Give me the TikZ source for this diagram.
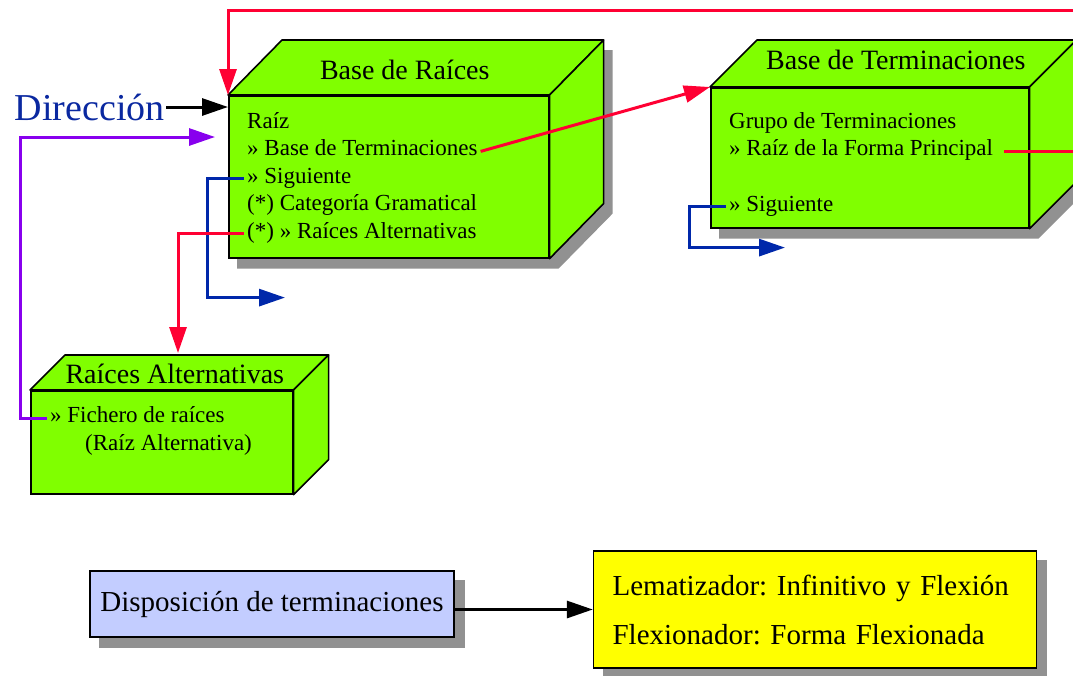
\documentclass[tikz,border=0pt]{standalone}
\usepackage{fontspec}
\setmainfont{Liberation Serif}
\usetikzlibrary{positioning,calc,arrows.meta}

\definecolor{boxgreen}{RGB}{128,255,0}
\definecolor{shadowgray}{RGB}{145,145,145}
\definecolor{linkred}{RGB}{255,0,51}
\definecolor{linkblue}{RGB}{0,40,170}
\definecolor{linkpurple}{RGB}{136,0,238}
\definecolor{dirblue}{RGB}{10,40,160}
\definecolor{dispblue}{RGB}{195,205,255}
\definecolor{lemayellow}{RGB}{255,255,0}

\pgfdeclarelayer{background}
\pgfsetlayers{background,main}

% top and side faces of a solid box, #1 front node, (#2,#3) depth
\newcommand{\solidbox}[3]{%
  \draw[facebox] (#1.north west) -- ++(#2,#3) -- ($(#1.north east)+(#2,#3)$) -- (#1.north east) -- cycle;
  \draw[facebox] (#1.north east) -- ++(#2,#3) -- ($(#1.south east)+(#2,#3)$) -- (#1.south east) -- cycle;
}
% shadow of a solid box, (#4,#5) offset
\newcommand{\boxshadow}[5]{%
  \begin{pgfonlayer}{background}
  \fill[shadowgray] ($(#1.south west)+(#4,#5)$) -- ($(#1.north west)+(#4,#5)$)
    -- ($(#1.north west)+(#2+#4,#3+#5)$) -- ($(#1.north east)+(#2+#4,#3+#5)$)
    -- ($(#1.south east)+(#2+#4,#3+#5)$) -- ($(#1.south east)+(#4,#5)$) -- cycle;
  \end{pgfonlayer}}

\frenchspacing

\begin{document}
\begin{tikzpicture}[x=1pt, y=-1pt,
    front/.style={draw, line width=1.6pt, fill=boxgreen, inner sep=0pt, anchor=north west},
    facebox/.style={draw, line width=1.6pt, fill=boxgreen, line join=round},
    boxtitle/.style={font=\fontsize{28}{32}\selectfont, inner sep=0pt},
    item/.style={font=\fontsize{23}{27}\selectfont, inner sep=3pt, text height=14pt, text depth=5pt, anchor=west},
    link/.style={line width=3pt, -{Triangle[length=26pt,width=17pt]}},
    flatbox/.style={draw, line width=1.6pt, inner sep=0pt, font=\fontsize{29}{34}\selectfont}
]
    \useasboundingbox (0,0) rectangle (1073,675);

    % Base de Raices
    \node [front, minimum width=320pt, minimum height=162pt] (raices) at (228,95) {};
    \solidbox{raices}{54}{-55}
    \boxshadow{raices}{54}{-55}{9}{10}
    \node [boxtitle] (raicesTitle) at ($(raices.north)+(16,-25)$) {Base de Raíces};
    \node [item] (raiz) at ($(raices.north west)+(16,29)$) {Raíz};
    \node [item, below right=2pt and 0pt of raiz.south west] (bterm) {» Base de Terminaciones};
    \node [item, below right=2pt and 0pt of bterm.south west] (sig) {» Siguiente};
    \node [item, below right=2pt and 0pt of sig.south west] (cat) {(*) Categoría Gramatical};
    \node [item, below right=2pt and 0pt of cat.south west] (ralt) {(*) » Raíces Alternativas};

    % Base de Terminaciones
    \node [front, minimum width=318pt, minimum height=140pt] (term) at (710,87) {};
    \solidbox{term}{47}{-47}
    \boxshadow{term}{47}{-47}{9}{10}
    \node [boxtitle] (termTitle) at ($(term.north)+(26,-27)$) {Base de Terminaciones};
    \node [item] (grupo) at ($(term.north west)+(16,37)$) {Grupo de Terminaciones};
    \node [item, below right=2pt and 0pt of grupo.south west] (rforma) {» Raíz de la Forma Principal};
    \node [item, below right=30pt and 0pt of rforma.south west] (sig2) {» Siguiente};

    % Raices Alternativas
    \node [front, minimum width=262pt, minimum height=103pt] (alt) at (30,390) {};
    \solidbox{alt}{35}{-35}
    \node [boxtitle] (altTitle) at ($(alt.north)+(13,-16)$) {Raíces Alternativas};
    \node [item] (fich) at ($(alt.north west)+(17,28)$) {» Fichero de raíces};
    \node [item, below right=3pt and 35pt of fich.south west] (fichRaiz) {(Raíz Alternativa)};

    % Direccion
    \node [anchor=east, inner sep=1pt, text=dirblue, font=\fontsize{38}{44}\selectfont] (dir) at ($(raices.north west)+(-62,12)$) {Dirección};

    % bottom boxes
    \node [flatbox, fill=dispblue, minimum width=364pt, minimum height=66pt] (disp) at (272,604) {Disposición de terminaciones};
    \node [flatbox, fill=lemayellow, text width=405pt, inner xsep=19pt, minimum height=117pt, align=left,
           font=\fontsize{29}{49}\selectfont, right=138pt of disp, yshift=-5.5pt] (lema)
          {Lematizador: Infinitivo y Flexión\\Flexionador: Forma Flexionada};
    \begin{pgfonlayer}{background}
        \fill [shadowgray] ($(disp.south west)+(10,10)$) rectangle ($(disp.north east)+(10,10)$);
        \fill [shadowgray] ($(lema.south west)+(10,10)$) rectangle ($(lema.north east)+(10,10)$);
    \end{pgfonlayer}

    % connectors
    \coordinate (topRight) at (1073,10);
    \coordinate (purpleIn) at ($(raices.north west)+(-13,42)$);
    \coordinate (sigOut) at ($(raices.south west)+(57,39)$);
    \coordinate (altIn) at ($(alt.north west)+(148,-37)$);
    \coordinate (sig2Out) at ($(term.south west)+(75,19)$);

    \draw [link, black] (dir.east) -- (dir.east -| raices.west);
    \draw [link, linkred] (topRight) -| (raices.north west);
    \draw [link, linkred] (bterm.east) -- (term.north west);
    \draw [line width=3pt, linkred] ([xshift=8pt]rforma.east) -- (rforma.east -| topRight);
    \draw [link, linkblue] (sig.west) -- ++(-37,0) |- (sigOut);
    \draw [link, linkred] (ralt.west) -| (altIn);
    \draw [link, linkpurple] (fich.west) -- ++(-27,0) |- (purpleIn);
    \draw [link, linkblue] (sig2.west) -- ++(-37,0) |- (sig2Out);
    \draw [link, black] (lema.west -| disp.east) -- (lema.west);
\end{tikzpicture}
\end{document}
